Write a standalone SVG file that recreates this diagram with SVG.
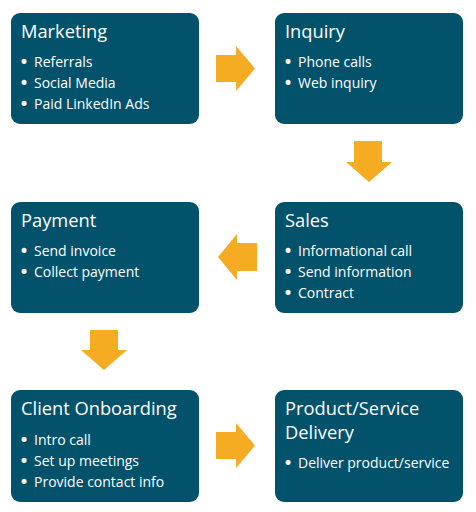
<svg xmlns="http://www.w3.org/2000/svg" width="476" height="512" viewBox="0 0 476 512">
<style>
.box{fill:#03526B}
.t{font-family:"Open Sans","Noto Sans","DejaVu Sans",sans-serif;fill:#ffffff}
.h{font-size:18.3px}
.b{font-size:14px}
.d{font-family:"DejaVu Sans",sans-serif;font-size:17px}
.arr{fill:#F5AB22}
</style>
<rect width="476" height="512" fill="#ffffff"/>
<g id="connectors">
<polygon class="arr" points="216,55 236,55 236,46 255,68.5 236,91 236,82 216,82"/>
<polygon class="arr" points="354,141 382,141 382,162 392,162 369,182 346,162 354,162"/>
<polygon class="arr" points="257,243 237,243 237,234 218,257 237,280 237,271 257,271"/>
<polygon class="arr" points="90,330 118,330 118,350 127,350 104,370 81,350 90,350"/>
<polygon class="arr" points="216,432 236,432 236,423 255,445.5 236,468 236,459 216,459"/>
</g>
<g id="marketing">
<rect class="box" x="11" y="13" width="188" height="111" rx="9"/>
<text class="t h" x="21" y="38">Marketing</text>
<text class="t b" x="19" y="68"><tspan class="d">•</tspan><tspan x="34" y="67">Referrals</tspan></text>
<text class="t b" x="19" y="89"><tspan class="d">•</tspan><tspan x="34" y="88">Social Media</tspan></text>
<text class="t b" x="19" y="110"><tspan class="d">•</tspan><tspan x="34" y="109">Paid LinkedIn Ads</tspan></text>
</g>
<g id="inquiry">
<rect class="box" x="275" y="13" width="188" height="111" rx="9"/>
<text class="t h" x="285" y="38">Inquiry</text>
<text class="t b" x="283" y="68"><tspan class="d">•</tspan><tspan x="298" y="67">Phone calls</tspan></text>
<text class="t b" x="283" y="89"><tspan class="d">•</tspan><tspan x="298" y="88">Web inquiry</tspan></text>
</g>
<g id="sales">
<rect class="box" x="275" y="202" width="188" height="111" rx="9"/>
<text class="t h" x="285" y="227">Sales</text>
<text class="t b" x="283" y="257"><tspan class="d">•</tspan><tspan x="298" y="256">Informational call</tspan></text>
<text class="t b" x="283" y="278"><tspan class="d">•</tspan><tspan x="298" y="277">Send information</tspan></text>
<text class="t b" x="283" y="299"><tspan class="d">•</tspan><tspan x="298" y="298">Contract</tspan></text>
</g>
<g id="payment">
<rect class="box" x="11" y="202" width="188" height="111" rx="9"/>
<text class="t h" x="21" y="227">Payment</text>
<text class="t b" x="19" y="257"><tspan class="d">•</tspan><tspan x="34" y="256">Send invoice</tspan></text>
<text class="t b" x="19" y="278"><tspan class="d">•</tspan><tspan x="34" y="277">Collect payment</tspan></text>
</g>
<g id="onboarding">
<rect class="box" x="11" y="390" width="188" height="112" rx="9"/>
<text class="t h" x="21" y="415">Client Onboarding</text>
<text class="t b" x="19" y="446"><tspan class="d">•</tspan><tspan x="34" y="445">Intro call</tspan></text>
<text class="t b" x="19" y="467"><tspan class="d">•</tspan><tspan x="34" y="466">Set up meetings</tspan></text>
<text class="t b" x="19" y="488"><tspan class="d">•</tspan><tspan x="34" y="487">Provide contact info</tspan></text>
</g>
<g id="delivery">
<rect class="box" x="275" y="390" width="188" height="112" rx="9"/>
<text class="t h" x="285" y="415">Product/Service</text>
<text class="t h" x="285" y="439">Delivery</text>
<text class="t b" x="283" y="469"><tspan class="d">•</tspan><tspan x="298" y="468">Deliver product/service</tspan></text>
</g>
</svg>
